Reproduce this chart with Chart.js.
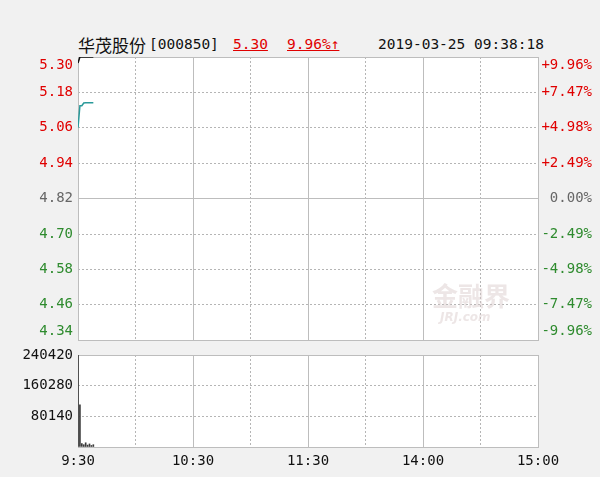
<!DOCTYPE html>
<html>
<head>
<meta charset="utf-8">
<script src="https://cdn.jsdelivr.net/npm/chart.js@4.4.0/dist/chart.umd.min.js"></script>
<style>
  body { margin: 0; background: #f1f1f1; }
  #wrap { position: relative; width: 600px; height: 477px; overflow: hidden; }
  canvas { position: absolute; left: 0; }
  .t { position: absolute; top: 36px; font: 14.5px "DejaVu Sans Mono", monospace; color: #111; white-space: nowrap; }
  .cn { font-family: "Noto Sans CJK SC", sans-serif; font-size: 17px; top: 32px; }
  .red { color: #e00000; text-decoration: underline; }
  .wm { position: absolute; left: 432px; top: 276px; font: bold 26px "Noto Sans CJK SC", sans-serif; color: rgba(215, 200, 200, 0.45); z-index: 5; }
  .wm2 { position: absolute; left: 440px; top: 310px; font: italic bold 12px "DejaVu Sans", sans-serif; color: rgba(215, 200, 200, 0.45); z-index: 5; }
</style>
</head>
<body>
<div id="wrap">
  <div class="t cn" style="left:78px">华茂股份</div>
  <div class="t" style="left:149px">[000850]</div>
  <div class="t red" style="left:233px">5.30</div>
  <div class="t red" style="left:287px">9.96%↑</div>
  <div class="t" style="left:378px">2019-03-25 09:38:18</div>
  <canvas id="priceChart" width="600" height="362" style="top:0"></canvas>
  <canvas id="volChart" width="600" height="137" style="top:340px"></canvas>
  <div class="wm">金融界</div>
  <div class="wm2">JRJ.com</div>
</div>
<script>
// minutes since 9:30
const minutes = [0, 1, 2, 3, 4, 5, 6, 7, 8];
const priceVals = [5.28, 5.30, 5.30, 5.30, 5.30, 5.30, 5.30, 5.30, 5.30];
const avgVals = [5.06, 5.135, 5.135, 5.144, 5.145, 5.145, 5.145, 5.145, 5.145];
const volVals = [240420, 110000, 9000, 6000, 11000, 5000, 8000, 4000, 6000];

const priceTicks = [4.34, 4.46, 4.58, 4.70, 4.82, 4.94, 5.06, 5.18, 5.30];
const pctTicks = [-9.96, -7.47, -4.98, -2.49, 0, 2.49, 4.98, 7.47, 9.96];
const volTicks = [0, 80140, 160280, 240420];
const hourTicks = [0, 60, 120, 180, 240];
const hourLabels = ['9:30', '10:30', '11:30', '14:00', '15:00'];
const halfTicks = [30, 90, 150, 210];

const RED = '#e00000', GREEN = '#2e8b2e', GRAY = '#666666';
const SOLID = '#bdbdbd', DOT = '#b5b5b5';
const monoFont = { family: 'DejaVu Sans Mono', size: 14 };

// white plot background
const bgPlugin = {
    id: 'bg',
    beforeDraw(chart) {
        const a = chart.chartArea;
        chart.ctx.save();
        chart.ctx.fillStyle = '#ffffff';
        chart.ctx.fillRect(a.left, a.top, a.right - a.left, a.bottom - a.top);
        chart.ctx.restore();
    }
};

function setTicks(list) {
    return function (s) { s.ticks = list.map(v => ({ value: v })); };
}
function pts(ys) {
    return minutes.map((m, i) => ({ x: m, y: ys[i] }));
}

// x axes shared by both charts: solid hour lines + dotted half hours
function hourAxis(showLabels) {
    return {
        type: 'linear', min: 0, max: 240, position: 'bottom', offset: false,
        afterBuildTicks: setTicks(hourTicks),
        afterFit: s => { s.height = showLabels ? 30 : 0; },
        ticks: {
            display: showLabels, autoSkip: false, maxRotation: 0, padding: 6,
            color: '#111', font: monoFont,
            callback: (v, i) => hourLabels[i]
        },
        grid: {
            drawTicks: false, offset: false,
            color: c => (c.index > 0 && c.index < 4) ? SOLID : 'transparent'
        },
        border: { display: false }
    };
}
function halfAxis() {
    return {
        type: 'linear', min: 0, max: 240, position: 'bottom', offset: false,
        afterBuildTicks: setTicks(halfTicks),
        afterFit: s => { s.height = 0; },
        ticks: { display: false },
        grid: { drawTicks: false, offset: false, color: DOT },
        border: { display: false, dash: [2, 2] }
    };
}

// price chart
new Chart(document.getElementById('priceChart'), {
    type: 'line',
    data: {
        datasets: [
            { data: pts(priceVals), borderColor: '#111111', borderWidth: 1.5, pointRadius: 0, xAxisID: 'x', yAxisID: 'y' },
            { data: pts(avgVals), borderColor: '#2a9a9a', borderWidth: 1.5, pointRadius: 0, xAxisID: 'x', yAxisID: 'y' }
        ]
    },
    options: {
        responsive: false,
        animation: false,
        layout: { padding: { top: 57, bottom: 17, left: 0, right: 8 } },
        plugins: { legend: { display: false }, tooltip: { enabled: false } },
        scales: {
            x: hourAxis(false),
            x2: halfAxis(),
            y: {
                position: 'left', min: 4.34, max: 5.30,
                afterBuildTicks: setTicks(priceTicks),
                afterFit: s => { s.width = 78; },
                ticks: {
                    autoSkip: false, padding: 5, font: monoFont,
                    color: c => c.index > 4 ? RED : (c.index < 4 ? GREEN : GRAY),
                    callback: (v, i) => {
                        const t = priceTicks[i].toFixed(2);
                        if (i === 8) return ['', t];
                        if (i === 0) return [t, ''];
                        return t;
                    }
                },
                grid: {
                    drawTicks: false,
                    color: c => (c.index === 0 || c.index === 4 || c.index === 8) ? SOLID : 'transparent'
                },
                border: { display: true, color: SOLID }
            },
            yp: {
                position: 'right', min: -9.96, max: 9.96,
                afterBuildTicks: setTicks(pctTicks),
                afterFit: s => { s.width = 54; },
                ticks: {
                    autoSkip: false, padding: 2, crossAlign: 'far', font: monoFont,
                    color: c => c.index > 4 ? RED : (c.index < 4 ? GREEN : GRAY),
                    callback: (v, i) => {
                        const p = pctTicks[i];
                        const t = (p > 0 ? '+' : '') + p.toFixed(2) + '%';
                        if (i === 8) return ['', t];
                        if (i === 0) return [t, ''];
                        return t;
                    }
                },
                grid: {
                    drawTicks: false,
                    color: c => (c.index === 0 || c.index === 4 || c.index === 8) ? 'transparent' : DOT
                },
                border: { display: true, color: SOLID, dash: [2, 2] }
            }
        }
    },
    plugins: [bgPlugin]
});

// volume chart
new Chart(document.getElementById('volChart'), {
    type: 'bar',
    data: {
        datasets: [
            { data: pts(volVals), backgroundColor: '#3a3a3a', barThickness: 1, xAxisID: 'x', yAxisID: 'y' }
        ]
    },
    options: {
        responsive: false,
        animation: false,
        layout: { padding: { top: 15, bottom: 0, left: 0, right: 62 } },
        plugins: { legend: { display: false }, tooltip: { enabled: false } },
        scales: {
            x: hourAxis(true),
            x2: halfAxis(),
            y: {
                position: 'left', min: 0, max: 240420,
                afterBuildTicks: setTicks(volTicks),
                afterFit: s => { s.width = 78; },
                ticks: {
                    autoSkip: false, padding: 5, font: monoFont, color: '#111',
                    callback: (v, i) => i === 0 ? '' : String(volTicks[i])
                },
                grid: {
                    drawTicks: false,
                    color: c => (c.index === 0 || c.index === 3) ? SOLID : 'transparent'
                },
                border: { display: true, color: SOLID }
            },
            y2: {
                position: 'right', min: 0, max: 240420,
                afterBuildTicks: setTicks(volTicks),
                afterFit: s => { s.width = 0; },
                ticks: { display: false },
                grid: {
                    drawTicks: false,
                    color: c => (c.index === 1 || c.index === 2) ? DOT : 'transparent'
                },
                border: { display: true, color: SOLID, dash: [2, 2] }
            }
        }
    },
    plugins: [bgPlugin]
});
</script>
</body>
</html>
